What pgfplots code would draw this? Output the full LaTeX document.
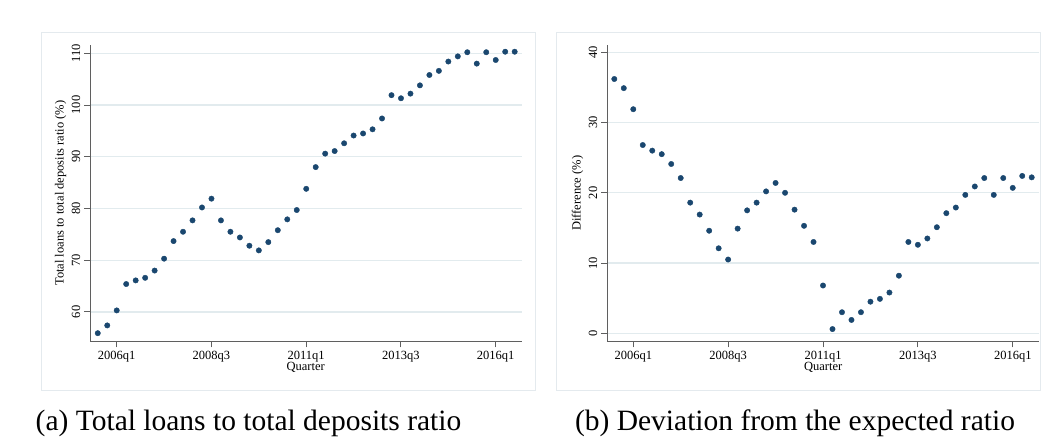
\documentclass[border=0pt]{standalone}
\usepackage{fontspec}
\setmainfont{Liberation Serif}
\usepackage{pgfplots}
\usepackage{pgfplotstable}
\pgfplotsset{compat=1.18}
\definecolor{stnavy}{RGB}{26,71,111}
\definecolor{gridc}{RGB}{226,235,238}
\definecolor{axc}{RGB}{95,95,95}
\definecolor{framec}{RGB}{228,234,238}

\pgfplotstableread{
t v
-2 55.9
-1 57.4
0 60.3
1 65.4
2 66.1
3 66.6
4 68.0
5 70.3
6 73.7
7 75.5
8 77.7
9 80.2
10 81.9
11 77.7
12 75.5
13 74.4
14 72.8
15 71.9
16 73.5
17 75.8
18 77.9
19 79.7
20 83.8
21 88.0
22 90.6
23 91.1
24 92.6
25 94.1
26 94.5
27 95.3
28 97.4
29 101.9
30 101.3
31 102.2
32 103.8
33 105.8
34 106.6
35 108.4
36 109.4
37 110.2
38 108.0
39 110.2
40 108.7
41 110.3
42 110.3
}\ratiotable

\pgfplotstableread{
t v
-2 36.2
-1 34.9
0 31.9
1 26.8
2 26.0
3 25.5
4 24.1
5 22.1
6 18.6
7 16.9
8 14.6
9 12.1
10 10.5
11 14.9
12 17.5
13 18.6
14 20.2
15 21.4
16 20.0
17 17.6
18 15.3
19 13.0
20 6.8
21 0.6
22 3.0
23 1.9
24 3.0
25 4.5
26 4.9
27 5.8
28 8.2
29 13.0
30 12.6
31 13.5
32 15.1
33 17.1
34 17.9
35 19.7
36 20.9
37 22.1
38 19.7
39 22.1
40 20.7
41 22.4
42 22.2
}\difftable

\pgfplotsset{
  stata/.style={
    scale only axis,
    anchor=south west,
    width=431.5bp, height=296.3bp,
    axis x line*=bottom, axis y line*=left,
    axis line style={axc, line width=1bp},
    every tick/.style={axc, line width=1bp},
    tick align=outside,
    major tick length=6bp,
    xtick={0,10,20,30,40},
    xticklabels={2006q1,2008q3,2011q1,2013q3,2016q1},
    ymajorgrids,
    grid style={gridc, line width=1.2bp},
    font=\fontsize{12.5bp}{15bp}\selectfont,
    /pgf/number format/assume math mode=true,
    yticklabel style={rotate=90, anchor=south, inner sep=3.5bp},
    xticklabel style={inner sep=2bp, yshift=-1.5bp},
    xlabel={Quarter},
    every axis x label/.style={at={(axis description cs:0.5,0)}, anchor=center, yshift=-26bp},
    every axis y label/.style={at={([xshift=-29.5bp]axis description cs:0,0.5)}, rotate=90, anchor=center},
    clip=false,
  },
  dots/.style={only marks, mark=*, mark size=2.7bp, color=stnavy, mark options={fill=stnavy, draw=stnavy}},
}

\begin{document}
\begin{tikzpicture}
\fill[white] (0bp,0bp) rectangle (1041bp,439bp);
\draw[framec, line width=0.8bp] (41bp,49bp) rectangle (535bp,407bp);
\draw[framec, line width=0.8bp] (556bp,49bp) rectangle (1040.5bp,407bp);

\begin{axis}[stata, at={(90bp,97.7bp)},
  xmin=-2.82, xmax=42.72, ymin=54.33, ymax=111.6,
  ytick={60,70,80,90,100,110},
  ylabel={Total loans to total deposits ratio (\%)}]
\addplot[dots] table[x=t,y=v]{\ratiotable};
\end{axis}

\begin{axis}[stata, at={(607bp,97.7bp)}, width=432.3bp,
  xmin=-2.77, xmax=42.8, ymin=-1.14, ymax=41.04,
  ytick={0,10,20,30,40},
  ylabel={Difference (\%)}]
\addplot[dots] table[x=t,y=v]{\difftable};
\end{axis}

\node[anchor=base, font=\fontsize{29.5bp}{33bp}\selectfont, inner sep=0pt] at (248.5bp,9bp) {(a) Total loans to total deposits ratio};
\node[anchor=base, font=\fontsize{29.5bp}{33bp}\selectfont, inner sep=0pt] at (795bp,9bp) {(b) Deviation from the expected ratio};
\end{tikzpicture}
\end{document}
